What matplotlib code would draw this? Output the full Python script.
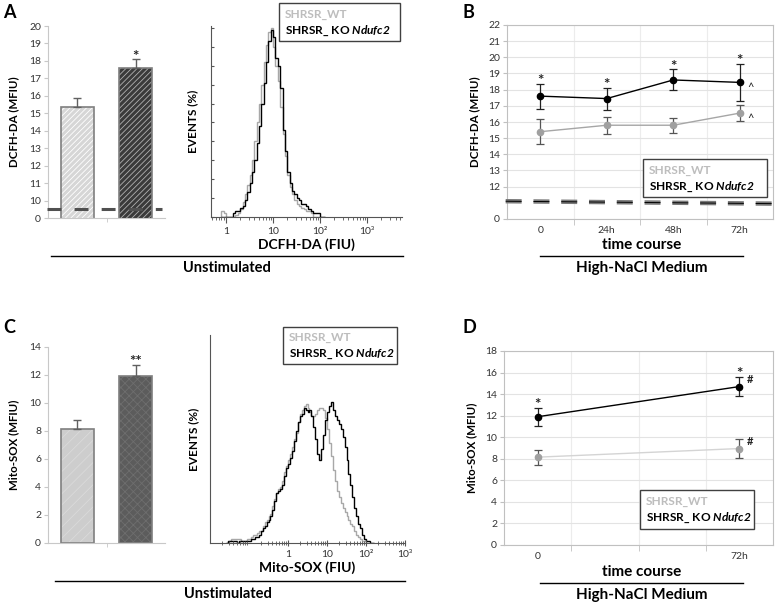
import numpy as np
import matplotlib
matplotlib.use('Agg')
import matplotlib.pyplot as plt
from matplotlib.patches import Rectangle

plt.rcParams['font.family'] = ['Lato', 'DejaVu Sans']
plt.rcParams['mathtext.fontset'] = 'custom'
plt.rcParams['mathtext.it'] = 'Lato:italic:bold'
plt.rcParams['mathtext.rm'] = 'Lato:italic:bold'
plt.rcParams['lines.scale_dashes'] = False
plt.rcParams['hatch.linewidth'] = 0.6

W, H = 777, 605

# ---- data ----
groups = ['SHRSR_WT', 'SHRSR_ KO $\\mathit{Ndufc2}$']

# panel A bars (DCFH-DA, MFIU)
dcf_bar = [15.35, 17.6]
dcf_bar_err = [0.5, 0.5]
# panel C bars (Mito-SOX, MFIU)
sox_bar = [8.15, 11.9]
sox_bar_err = [0.65, 0.85]

# panel B time course
time_b = ['0', '24h', '48h', '72h']
dcf_wt = [15.4, 15.8, 15.8, 16.55]
dcf_wt_err = [0.78, 0.53, 0.45, 0.5]
dcf_ko = [17.6, 17.45, 18.6, 18.45]
dcf_ko_err = [0.78, 0.68, 0.65, 1.15]

# panel D time course
time_d = ['0', '72h']
sox_wt = [8.15, 8.95]
sox_wt_err = [0.7, 0.85]
sox_ko = [11.9, 14.7]
sox_ko_err = [0.85, 0.9]

# histograms, EVENTS (%) per log10 bin of 0.05
fiu_ticks = ['1', '10', '10²', '10³']
a_start = -0.1
a_wt = [3, 2, 0, 0, 0, 0, 1, 2, 4, 8,
        12, 17, 22, 30, 40, 50, 60, 70, 82, 91,
        98, 100, 90, 80, 72, 58, 44, 32, 22, 16,
        12, 9, 7, 6, 5, 4, 3, 3, 2, 0,
        0, 0, 0, 0]
a_ko = [0, 0, 0, 0, 0, 2, 3, 3, 5, 6,
        9, 13, 18, 24, 30, 39, 48, 60, 71, 82,
        93, 99, 95, 84, 80, 68, 46, 35, 24, 18,
        14, 12, 10, 9, 7, 7, 6, 4, 3, 2,
        2, 2, 0, 0]
c_start = -1.6
c_wt = [0, 1, 1, 2, 2, 2, 2, 2, 1, 1,
        1, 2, 2, 3, 4, 4, 5, 6, 6, 8,
        10, 11, 13, 14, 18, 21, 24, 26, 27, 30,
        34, 37, 40, 43, 46, 50, 53, 58, 62, 64,
        66, 67, 65, 63, 61, 61, 62, 64, 65, 65,
        64, 60, 55, 48, 42, 35, 30, 25, 22, 19,
        17, 15, 13, 11, 9, 8, 6, 4, 3, 2,
        1, 1, 0, 0, 0, 0]
c_ko = [0, 1, 1, 1, 1, 1, 0, 1, 1, 1,
        1, 1, 1, 2, 2, 3, 3, 4, 6, 7,
        8, 10, 11, 13, 16, 20, 24, 25, 26, 28,
        32, 36, 38, 41, 44, 49, 54, 58, 61, 62,
        65, 64, 63, 64, 61, 56, 50, 43, 40, 45,
        52, 59, 63, 66, 68, 64, 61, 59, 57, 55,
        51, 46, 40, 33, 28, 22, 17, 13, 9, 7,
        4, 2, 1, 1, 0, 0]

fig = plt.figure(figsize=(7.77, 6.05), dpi=100)


def add_ax(x0, y0, x1, y1):
    return fig.add_axes([x0 / W, 1 - y1 / H, (x1 - x0) / W, (y1 - y0) / H])


def ftext(x, y, s, **kw):
    fig.text(x / W, 1 - y / H, s, **kw)


def hline(x0, x1, y):
    fig.add_artist(plt.Line2D([x0 / W, x1 / W], [1 - y / H, 1 - y / H],
                              color='black', lw=1, transform=fig.transFigure))


def legend_box(x0, y0, x1, y1):
    fig.patches.append(Rectangle((x0 / W, 1 - y1 / H), (x1 - x0) / W, (y1 - y0) / H,
                                 transform=fig.transFigure, facecolor='white',
                                 edgecolor='#404040', lw=1, zorder=5))
    h = y1 - y0
    ftext(x0 + 6, y0 + h * 0.29, groups[0], color='#bdbdbd', weight='bold',
          fontsize=8.6, va='center', zorder=6)
    ftext(x0 + 6, y0 + h * 0.72, groups[1], color='black', weight='bold',
          fontsize=8.6, va='center', zorder=6)


def star(ax, x, y, s, dx=0, dy=-1):
    ax.annotate(s, (x, y), xytext=(dx, dy), textcoords='offset points',
                ha='center', va='baseline', fontsize=11, weight='bold', color='#222')


def bar_panel(ax, vals, errs, faces, hatchcols, hatches, ybottom, ytop, ticks, labels):
    x = np.arange(len(vals))
    for i in range(len(vals)):
        ax.bar(x[i], vals[i], width=0.57, color=faces[i], hatch=hatches[i],
               edgecolor=hatchcols[i], lw=0)
    ax.bar(x, vals, width=0.57, fill=False, edgecolor='#7f7f7f', lw=1.2)
    ax.errorbar(x, vals, yerr=[np.zeros(len(errs)), errs], fmt='none',
                ecolor='#606060', capsize=3, elinewidth=1, capthick=1)
    ax.set_xlim(-0.5, len(vals) - 0.5)
    ax.set_ylim(ybottom, ytop)
    ax.set_yticks(ticks)
    ax.set_yticklabels(labels)
    ax.set_xticks([])
    ax.set_xticks([0.5], minor=True)
    for s in ['top', 'right']:
        ax.spines[s].set_visible(False)
    for s in ['left', 'bottom']:
        ax.spines[s].set_color('#c8c8c8')
    ax.tick_params(axis='y', length=3, color='#c8c8c8', labelsize=7.5,
                   labelcolor='#333', pad=2)
    ax.tick_params(axis='x', which='minor', length=3, color='#c8c8c8')
    return x


def hist_panel(ax, start, wt, ko, xlim, ylim):
    edges = 10 ** (start + 0.05 * np.arange(len(wt) + 1))
    ax.stairs(wt, edges, color='#a8a8a8', lw=1)
    ax.stairs(ko, edges, color='black', lw=1)
    ax.set_xscale('log')
    ax.set_xlim(*xlim)
    ax.set_ylim(*ylim)
    ax.set_xticks([1, 10, 100, 1000])
    ax.set_xticklabels(fiu_ticks)
    for s in ['top', 'right']:
        ax.spines[s].set_visible(False)
    for s in ['left', 'bottom']:
        ax.spines[s].set_color('#555')
    ax.tick_params(axis='x', which='major', length=4, color='#555',
                   labelsize=7.5, labelcolor='#333', pad=3)
    ax.tick_params(axis='x', which='minor', length=2.5, color='#555')


def line_panel(ax, xs, wt, wt_err, ko, ko_err, wt_col, ymin, ymax):
    ax.errorbar(xs, wt, yerr=wt_err, color=wt_col, marker='o', ms=4.5,
                mfc='#a0a0a0', mec='#a0a0a0', lw=1, ecolor='#555',
                elinewidth=0.9, capsize=3, capthick=0.9, zorder=3)
    ax.errorbar(xs, ko, yerr=ko_err, color='black', marker='o', ms=4.5,
                lw=1, ecolor='#222', elinewidth=0.9, capsize=3, capthick=0.9,
                zorder=4)
    ax.set_xlim(-0.5, len(time_b) - 0.5)
    ax.set_ylim(ymin, ymax)
    ax.set_xticks([0.5, 1.5, 2.5], minor=True)
    ax.grid(True, axis='y', color='#e3e3e3', lw=0.8)
    ax.grid(True, axis='x', which='minor', color='#ececec', lw=0.8)
    ax.set_axisbelow(True)
    for s in ax.spines.values():
        s.set_color('#c0c0c0')
    ax.tick_params(axis='x', which='major', length=0, labelsize=7.5,
                   labelcolor='#333', pad=5)
    ax.tick_params(axis='x', which='minor', length=4, color='#c0c0c0')
    ax.tick_params(axis='y', length=3, color='#c0c0c0', labelsize=7.5,
                   labelcolor='#333', pad=2)


# ---------------- Panel A ----------------
axA = add_ax(48, 26, 165, 218)
xa = bar_panel(axA, dcf_bar, dcf_bar_err, ['#d6d6d6', '#3a3a3a'],
               ['white', '#b0b0b0'], ['//////', '//////'], 9, 20,
               list(range(9, 21)), ['0'] + [str(v) for v in range(10, 21)])
axA.plot([-0.52, 1.45], [9.5, 9.5], color='#505050', lw=2.2, dashes=(10, 9.5),
         clip_on=False, zorder=5)
star(axA, xa[1], dcf_bar[1] + dcf_bar_err[1], '*')
axA.set_ylabel('DCFH-DA (MFIU)', fontsize=8.3, weight='bold', labelpad=7)

axAh = add_ax(211, 26, 402, 217)
hist_panel(axAh, a_start, a_wt, a_ko, (10 ** -0.32, 10 ** 3.74), (0, 101))
axAh.set_yticks(np.arange(0, 101, 10))
axAh.set_yticklabels([])
axAh.tick_params(axis='y', direction='in', length=2.5, color='#555')
axAh.set_ylabel('EVENTS (%)', fontsize=8.5, weight='bold', labelpad=6)
axAh.set_xlabel('DCFH-DA (FIU)', fontsize=10, weight='bold', labelpad=2)
legend_box(279, 3, 400, 41)
hline(51, 403, 256)
ftext(227, 268, 'Unstimulated', fontsize=10.5, weight='bold', ha='center', va='center')

# ---------------- Panel B ----------------
axB = add_ax(507, 25, 773, 219)
xb = np.arange(len(time_b))
line_panel(axB, xb, dcf_wt, dcf_wt_err, dcf_ko, dcf_ko_err, '#a6a6a6', 10, 22)
axB.set_xticks(xb)
axB.set_xticklabels(time_b)
axB.set_yticks([10] + list(range(12, 23)))
axB.set_yticklabels(['0'] + [str(v) for v in range(12, 23)])
axB.plot([-0.52, 3.5], [11.1, 10.95], color='#7a7a7a', lw=3.2,
         dashes=(11.5, 8.5), clip_on=False, zorder=5)
axB.plot([-0.52, 3.5], [11.1, 10.95], color='black', lw=0.7,
         dashes=(11.5, 8.5), clip_on=False, zorder=6)
for i in range(len(time_b)):
    star(axB, xb[i], dcf_ko[i] + dcf_ko_err[i], '*')
axB.annotate('^', (xb[-1], dcf_ko[-1]), xytext=(8, -4), textcoords='offset points',
             ha='center', va='center', fontsize=8, color='#222')
axB.annotate('^', (xb[-1], dcf_wt[-1]), xytext=(8, -4), textcoords='offset points',
             ha='center', va='center', fontsize=8, color='#222')
axB.set_ylabel('DCFH-DA (MFIU)', fontsize=8.3, weight='bold', labelpad=6)
legend_box(643, 159, 767, 197)
ftext(642, 245, 'time course', fontsize=11, weight='bold', ha='center', va='center')
hline(540, 743, 256)
ftext(642, 268, 'High-NaCl Medium', fontsize=11, weight='bold', ha='center', va='center')

# ---------------- Panel C ----------------
axC = add_ax(48, 347, 165, 543)
xc = bar_panel(axC, sox_bar, sox_bar_err, ['#cdcdcd', '#5c5c5c'],
               ['#dadada', '#6e6e6e'], ['///', 'xxxx'], 0, 14,
               list(range(0, 15, 2)), [str(v) for v in range(0, 15, 2)])
star(axC, xc[1], sox_bar[1] + sox_bar_err[1], '**')
axC.set_ylabel('Mito-SOX (MFIU)', fontsize=8.3, weight='bold', labelpad=7)

axCh = add_ax(210, 335, 405, 543)
hist_panel(axCh, c_start, c_wt, c_ko, (0.01, 1000), (0, 100))
axCh.set_yticks([])
axCh.tick_params(axis='x', which='both', direction='inout')
axCh.set_ylabel('EVENTS (%)', fontsize=8.5, weight='bold', labelpad=8)
axCh.set_xlabel('Mito-SOX (FIU)', fontsize=10, weight='bold', labelpad=2)
legend_box(283, 327, 397, 364)
hline(55, 405, 581)
ftext(228, 594, 'Unstimulated', fontsize=10.5, weight='bold', ha='center', va='center')

# ---------------- Panel D ----------------
axD = add_ax(504, 351, 773, 545)
xd = [time_b.index(t) for t in time_d]
line_panel(axD, xd, sox_wt, sox_wt_err, sox_ko, sox_ko_err, '#d4d4d4', 0, 18)
axD.set_xticks(xd)
axD.set_xticklabels(time_d)
axD.set_yticks(range(0, 19, 2))
for i in range(len(time_d)):
    star(axD, xd[i], sox_ko[i] + sox_ko_err[i], '*')
axD.annotate('#', (xd[-1], sox_ko[-1]), xytext=(8, 5), textcoords='offset points',
             ha='center', va='center', fontsize=8, weight='bold', color='#222')
axD.annotate('#', (xd[-1], sox_wt[-1]), xytext=(8, 5), textcoords='offset points',
             ha='center', va='center', fontsize=8, weight='bold', color='#222')
axD.set_ylabel('Mito-SOX (MFIU)', fontsize=8.3, weight='bold', labelpad=6)
legend_box(640, 490, 754, 529)
ftext(642, 572, 'time course', fontsize=11, weight='bold', ha='center', va='center')
hline(540, 743, 583)
ftext(642, 595, 'High-NaCl Medium', fontsize=11, weight='bold', ha='center', va='center')

# panel letters
for lab, px, py in [('A', 3, 13), ('B', 463, 13), ('C', 3, 328), ('D', 463, 328)]:
    ftext(px, py, lab, fontsize=13, weight='bold', va='center')

fig.savefig('out.png', dpi=100)
